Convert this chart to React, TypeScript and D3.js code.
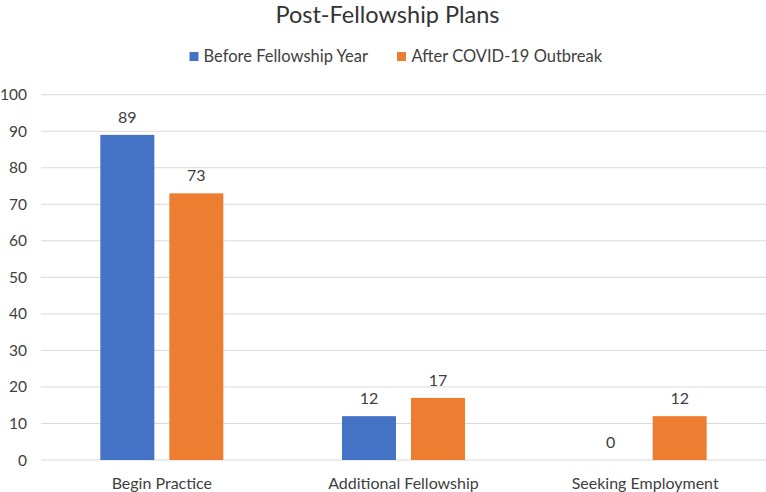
import React from "react";
import * as d3 from "d3";

const categories = ["Begin Practice", "Additional Fellowship", "Seeking Employment"];
const seriesNames = ["Before Fellowship Year", "After COVID-19 Outbreak"];
const beforeValues = [89, 12, 0];
const afterValues = [73, 17, 12];
const yTicks = [0, 10, 20, 30, 40, 50, 60, 70, 80, 90, 100];
const colors = ["#4472C4", "#ED7D31"];

const W = 766;
const H = 492;
const FONT = "Lato, 'Open Sans', sans-serif";

export default function App() {
  const left = 41;
  const right = 766;
  const top = 94.7;
  const bottom = 460;
  const x = d3.scaleBand<string>().domain(categories).range([left, right]).paddingInner(0).paddingOuter(0);
  const y = d3.scaleLinear().domain([0, 100]).range([bottom, top]);
  const barW = 54;
  const gap = 15;
  const series = [beforeValues, afterValues];

  return (
    <svg width={W} height={H} style={{ position: "absolute", left: 0, top: 0, background: "#fff" }} fontFamily={FONT}>
      <text x={387.5} y={23} textAnchor="middle" fontSize={23.5} fill="#333">
        Post-Fellowship Plans
      </text>
      {/* legend */}
      <g fontSize={16.5} fill="#404040">
        <rect x={189.5} y={52} width={9} height={9} fill={colors[0]} />
        <text x={203.5} y={61.5}>{seriesNames[0]}</text>
        <rect x={397} y={52} width={9} height={9} fill={colors[1]} />
        <text x={411.5} y={61.5}>{seriesNames[1]}</text>
      </g>
      {/* gridlines */}
      {yTicks.map((t) => (
        <line key={t} x1={left} x2={right} y1={y(t)} y2={y(t)} stroke="#D9D9D9" strokeWidth={1} />
      ))}
      {/* y tick labels */}
      {yTicks.map((t) => (
        <text key={"l" + t} x={27} y={y(t) + 5.5} textAnchor="end" fontSize={15.5} fill="#404040">
          {t}
        </text>
      ))}
      {/* bars */}
      {categories.map((c, i) => {
        const cx = (x(c) as number) + x.bandwidth() / 2;
        return (
          <g key={c}>
            {series.map((vals, s) => {
              const bx = s === 0 ? cx - gap / 2 - barW : cx + gap / 2;
              const v = vals[i];
              return (
                <g key={s}>
                  {v > 0 && (
                    <rect x={bx} y={y(v)} width={barW} height={y(0) - y(v)} fill={colors[s]} />
                  )}
                  <text x={bx + barW / 2} y={y(v) - 12} textAnchor="middle" fontSize={16} fill="#404040">
                    {v}
                  </text>
                </g>
              );
            })}
            <text x={cx} y={489} textAnchor="middle" fontSize={16} fill="#404040">
              {c}
            </text>
          </g>
        );
      })}
    </svg>
  );
}
